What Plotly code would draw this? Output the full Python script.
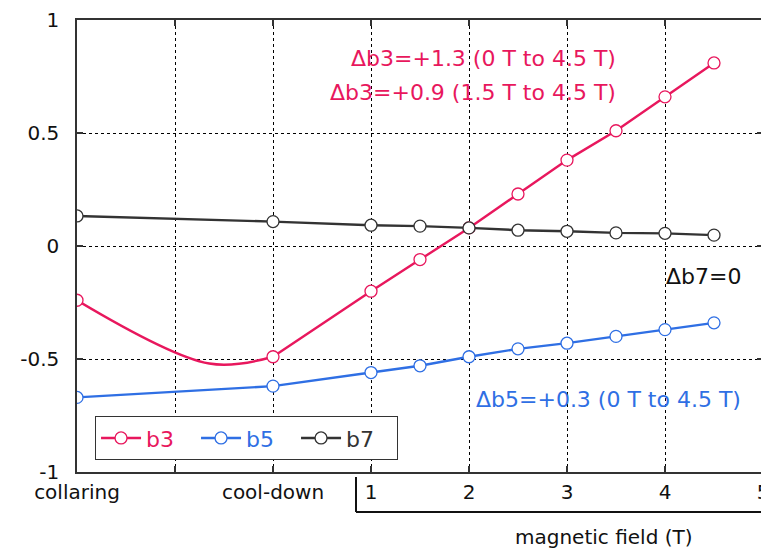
import plotly.graph_objects as go

# x positions: collaring = -2, cool-down = 0, then magnetic field in T
x_pos = [-2, 0, 1, 1.5, 2, 2.5, 3, 3.5, 4, 4.5]
b3 = [-0.24, -0.49, -0.20, -0.06, 0.08, 0.23, 0.38, 0.51, 0.66, 0.81]
b5 = [-0.67, -0.62, -0.56, -0.53, -0.49, -0.455, -0.43, -0.40, -0.37, -0.34]
b7 = [0.133, 0.108, 0.092, 0.088, 0.08, 0.07, 0.065, 0.058, 0.056, 0.048]

# lowest point of the smoothed b3 curve between collaring and cool-down
b3_dip_x = -0.65
b3_dip_y = -0.52

x_tickvals = [-2, -1, 0, 1, 2, 3, 4, 5]
x_ticktext = ["collaring", "", "cool-down", "1", "2", "3", "4", "5"]
y_tickvals = [-1, -0.5, 0, 0.5, 1]
y_ticktext = ["-1", "-0.5", "0", "0.5", "1"]

C3 = "#E8175D"
C5 = "#2F6FE4"
C7 = "#333333"
FONT = "DejaVu Sans"
LW = 2.4
MS = 12

fig = go.Figure()

# smoothed b3 part (collaring -> cool-down)
fig.add_trace(go.Scatter(
    x=[x_pos[0], b3_dip_x, x_pos[1]], y=[b3[0], b3_dip_y, b3[1]], mode="lines",
    line=dict(color=C3, width=LW, shape="spline", smoothing=1.0), showlegend=False, hoverinfo="skip",
))
fig.add_trace(go.Scatter(
    x=x_pos[:1], y=b3[:1], mode="markers", showlegend=False,
    marker=dict(symbol="circle", size=MS, color="white", line=dict(color=C3, width=1.3)),
))

def add(x, y, color, name):
    fig.add_trace(go.Scatter(
        x=x, y=y, mode="lines+markers", name=f"<span style='color:{color}'>{name}</span>",
        line=dict(color=color, width=LW),
        marker=dict(symbol="circle", size=MS, color="white", line=dict(color=color, width=1.3)),
    ))

add(x_pos[1:], b3[1:], C3, "b3")
add(x_pos, b5, C5, "b5")
add(x_pos, b7, C7, "b7")

axis_common = dict(
    showline=True, linecolor="#333333", linewidth=1.5, mirror="ticks",
    ticks="inside", ticklen=6, tickcolor="#333333", tickwidth=1.5,
    showgrid=True, gridcolor="#000000", gridwidth=1, griddash="dot",
    zeroline=False, automargin=False, tickfont=dict(family=FONT, size=20, color="#111111"),
)

fig.update_xaxes(range=[-2, 5], tickmode="array", tickvals=x_tickvals, ticktext=x_ticktext,
                 ticklabelstandoff=1, **axis_common)
fig.update_yaxes(range=[-1, 1], tickmode="array", tickvals=y_tickvals, ticktext=y_ticktext,
                 ticklabelstandoff=12, **axis_common)

ann_font = dict(family=FONT, size=22)
fig.add_annotation(x=3.52, y=0.83, text="Δb3=+1.3 (0 T to 4.5 T)", showarrow=False,
                   xanchor="right", yanchor="middle", font=dict(color=C3, **ann_font))
fig.add_annotation(x=3.52, y=0.68, text="Δb3=+0.9 (1.5 T to 4.5 T)", showarrow=False,
                   xanchor="right", yanchor="middle", font=dict(color=C3, **ann_font))
fig.add_annotation(x=4.8, y=-0.137, text="Δb7=0", showarrow=False,
                   xanchor="right", yanchor="middle", font=dict(color="#111111", **ann_font))
fig.add_annotation(x=4.8, y=-0.68, text="Δb5=+0.3 (0 T to 4.5 T)", showarrow=False,
                   xanchor="right", yanchor="middle", font=dict(color=C5, **ann_font))

fig.add_annotation(x=0.7675, y=-0.144, xref="paper", yref="paper", text="magnetic field (T)",
                   showarrow=False, xanchor="center", yanchor="middle",
                   font=dict(family=FONT, size=20, color="#111111"))

# bracket under magnetic-field part of the axis
fig.add_shape(type="line", xref="paper", yref="paper", x0=0.4067, x1=0.4067, y0=-0.011, y1=-0.0885,
              line=dict(color="#111111", width=2))
fig.add_shape(type="line", xref="paper", yref="paper", x0=0.4067, x1=1.03, y0=-0.0885, y1=-0.0885,
              line=dict(color="#111111", width=2))

# page body has an 8px margin, so the figure is laid out with that offset in mind
fig.update_layout(
    width=769, height=551,
    margin=dict(l=69, r=14, t=12, b=87, autoexpand=False),
    plot_bgcolor="white", paper_bgcolor="white",
    font=dict(family=FONT, size=20, color="#111111"),
    legend=dict(orientation="h", x=0.026, y=0.124, xanchor="left", yanchor="top",
                bgcolor="white", bordercolor="#333333", borderwidth=1.2,
                font=dict(family=FONT, size=22), entrywidth=45, itemwidth=40,
                tracegroupgap=0),
    showlegend=True,
)

fig.write_html("out.html")
